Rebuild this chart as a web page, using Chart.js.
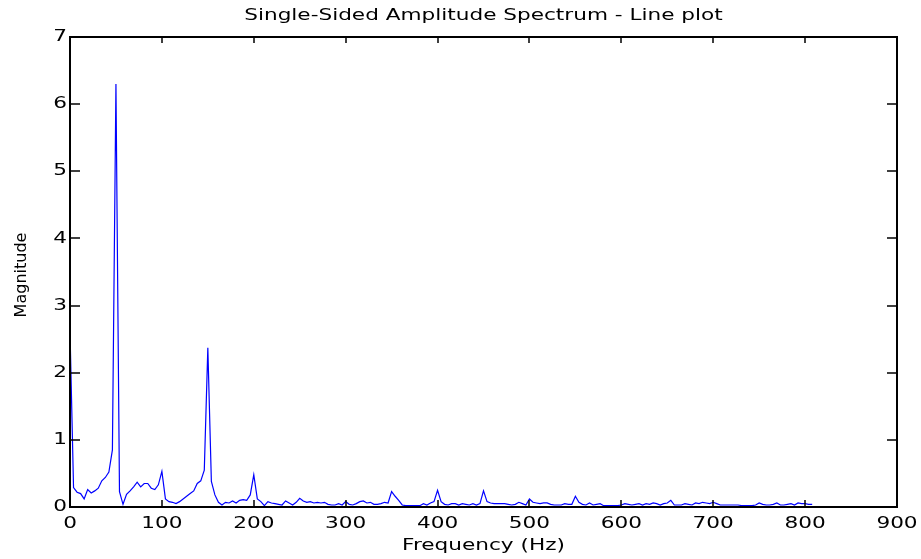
<!DOCTYPE html>
<html>
<head>
<meta charset="utf-8">
<script src="https://cdn.jsdelivr.net/npm/chart.js@4"></script>
<style>
  html, body { margin: 0; padding: 0; background: #ffffff; }
  canvas { display: block; }
</style>
</head>
<body>
<canvas id="c" width="921" height="559"></canvas>
<script>
// ---- data ----
const chartTitle = 'Single-Sided Amplitude Spectrum - Line plot';
const xTitle = 'Frequency (Hz)';
const yTitle = 'Magnitude';
const xTicks = [0, 100, 200, 300, 400, 500, 600, 700, 800, 900];
const yTicks = [0, 1, 2, 3, 4, 5, 6, 7];

// frequency bins (Hz)
const freqHz = [
  0, 3.85, 7.69, 11.54, 15.38, 19.23, 23.08, 26.92, 30.77, 34.62, 38.46, 42.31, 46.15,
  50, 53.85, 57.69, 61.54, 65.38, 69.23, 73.08, 76.92, 80.77, 84.62, 88.46, 92.31, 96.15,
  100, 103.85, 107.69, 111.54, 115.38, 119.23, 123.08, 126.92, 130.77, 134.62, 138.46, 142.31, 146.15,
  150, 153.85, 157.69, 161.54, 165.38, 169.23, 173.08, 176.92, 180.77, 184.62, 188.46, 192.31, 196.15,
  200, 203.85, 207.69, 211.54, 215.38, 219.23, 223.08, 226.92, 230.77, 234.62, 238.46, 242.31, 246.15,
  250, 253.85, 257.69, 261.54, 265.38, 269.23, 273.08, 276.92, 280.77, 284.62, 288.46, 292.31, 296.15,
  300, 303.85, 307.69, 311.54, 315.38, 319.23, 323.08, 326.92, 330.77, 334.62, 338.46, 342.31, 346.15,
  350, 353.85, 357.69, 361.54, 365.38, 369.23, 373.08, 376.92, 380.77, 384.62, 388.46, 392.31, 396.15,
  400, 403.85, 407.69, 411.54, 415.38, 419.23, 423.08, 426.92, 430.77, 434.62, 438.46, 442.31, 446.15,
  450, 453.85, 457.69, 461.54, 465.38, 469.23, 473.08, 476.92, 480.77, 484.62, 488.46, 492.31, 496.15,
  500, 503.85, 507.69, 511.54, 515.38, 519.23, 523.08, 526.92, 530.77, 534.62, 538.46, 542.31, 546.15,
  550, 553.85, 557.69, 561.54, 565.38, 569.23, 573.08, 576.92, 580.77, 584.62, 588.46, 592.31, 596.15,
  600, 603.85, 607.69, 611.54, 615.38, 619.23, 623.08, 626.92, 630.77, 634.62, 638.46, 642.31, 646.15,
  650, 653.85, 657.69, 661.54, 665.38, 669.23, 673.08, 676.92, 680.77, 684.62, 688.46, 692.31, 696.15,
  700, 703.85, 707.69, 711.54, 715.38, 719.23, 723.08, 726.92, 730.77, 734.62, 738.46, 742.31, 746.15,
  750, 753.85, 757.69, 761.54, 765.38, 769.23, 773.08, 776.92, 780.77, 784.62, 788.46, 792.31, 796.15,
  800, 803.85, 807.69
];

// single-sided amplitude at each bin
const magnitude = [
  2.62, 0.29, 0.22, 0.20, 0.12, 0.26, 0.21, 0.24, 0.28, 0.39, 0.44, 0.52, 0.85,
  6.30, 0.23, 0.04, 0.19, 0.24, 0.30, 0.37, 0.30, 0.35, 0.35, 0.28, 0.26, 0.33,
  0.53, 0.12, 0.08, 0.07, 0.05, 0.08, 0.12, 0.16, 0.20, 0.24, 0.35, 0.39, 0.55,
  2.37, 0.38, 0.18, 0.07, 0.03, 0.07, 0.06, 0.09, 0.06, 0.10, 0.11, 0.10, 0.18,
  0.48, 0.12, 0.08, 0.02, 0.08, 0.06, 0.05, 0.04, 0.03, 0.09, 0.06, 0.03, 0.07,
  0.13, 0.09, 0.07, 0.08, 0.06, 0.07, 0.06, 0.07, 0.04, 0.03, 0.03, 0.05, 0.03,
  0.08, 0.04, 0.03, 0.05, 0.08, 0.09, 0.06, 0.07, 0.04, 0.04, 0.05, 0.07, 0.06,
  0.23, 0.16, 0.10, 0.03, 0.02, 0.02, 0.02, 0.02, 0.02, 0.05, 0.03, 0.06, 0.08,
  0.25, 0.08, 0.04, 0.03, 0.05, 0.05, 0.03, 0.05, 0.04, 0.03, 0.05, 0.03, 0.05,
  0.24, 0.08, 0.06, 0.05, 0.05, 0.05, 0.05, 0.04, 0.03, 0.04, 0.07, 0.05, 0.03,
  0.12, 0.07, 0.06, 0.05, 0.06, 0.06, 0.04, 0.03, 0.03, 0.03, 0.05, 0.04, 0.04,
  0.16, 0.07, 0.04, 0.03, 0.06, 0.03, 0.04, 0.05, 0.02, 0.02, 0.02, 0.02, 0.02,
  0.03, 0.05, 0.04, 0.03, 0.04, 0.05, 0.03, 0.05, 0.04, 0.06, 0.05, 0.03, 0.05,
  0.06, 0.10, 0.03, 0.03, 0.03, 0.05, 0.04, 0.03, 0.06, 0.05, 0.07, 0.06, 0.05,
  0.07, 0.05, 0.03, 0.03, 0.03, 0.03, 0.03, 0.03, 0.02, 0.02, 0.02, 0.02, 0.03,
  0.06, 0.04, 0.03, 0.03, 0.04, 0.06, 0.03, 0.03, 0.04, 0.05, 0.03, 0.06, 0.05,
  0.05, 0.04, 0.04
];

// ---- rendering ----
const FONT = '"DejaVu Sans", "Liberation Sans", sans-serif';
const STRETCH = 1.35; // horizontal text in the reference is widened

const stretchTextPlugin = {
  id: 'stretchText',
  beforeInit(chart) {
    const ctx = chart.ctx;
    const orig = ctx.fillText;
    ctx.__plainFillText = orig;
    ctx.fillText = function (text, x, y, maxWidth) {
      this.save();
      this.translate(x, y);
      this.scale(STRETCH, 1);
      if (maxWidth === undefined) orig.call(this, text, 0, 0);
      else orig.call(this, text, 0, 0, maxWidth / STRETCH);
      this.restore();
    };
  }
};

// MATLAB-style box with inward tick marks
const framePlugin = {
  id: 'frame',
  afterDatasetsDraw(chart) {
    const { ctx, scales } = chart;
    const xs = scales.x, ys = scales.y;
    const L = Math.round(xs.getPixelForValue(xTicks[0]));
    const R = Math.round(xs.getPixelForValue(xTicks[xTicks.length - 1]));
    const T = Math.round(ys.getPixelForValue(yTicks[yTicks.length - 1]));
    const B = Math.round(ys.getPixelForValue(yTicks[0]));
    ctx.save();
    ctx.strokeStyle = '#000000';
    ctx.lineWidth = 2;
    ctx.setLineDash([]);
    ctx.beginPath();
    ctx.moveTo(L, T);
    ctx.lineTo(R, T);
    ctx.lineTo(R, B);
    ctx.lineTo(L, B);
    ctx.closePath();
    ctx.stroke();
    ctx.lineWidth = 1.5;
    ctx.beginPath();
    xTicks.forEach(v => {
      const px = Math.round(xs.getPixelForValue(v));
      ctx.moveTo(px, B); ctx.lineTo(px, B - 7);
      ctx.moveTo(px, T); ctx.lineTo(px, T + 6);
    });
    yTicks.forEach(v => {
      const py = Math.round(ys.getPixelForValue(v));
      ctx.moveTo(L, py); ctx.lineTo(L + 10, py);
      ctx.moveTo(R, py); ctx.lineTo(R - 10, py);
    });
    ctx.stroke();
    ctx.restore();
  },
  afterDraw(chart) {
    const { ctx, scales } = chart;
    const ys = scales.y;
    const T = ys.getPixelForValue(yTicks[yTicks.length - 1]);
    const B = ys.getPixelForValue(yTicks[0]);
    ctx.save();
    ctx.fillStyle = '#000000';
    ctx.font = '16px ' + FONT;
    ctx.textAlign = 'center';
    ctx.textBaseline = 'middle';
    ctx.translate(21.5, (T + B) / 2 + 3);
    ctx.rotate(-Math.PI / 2);
    ctx.__plainFillText.call(ctx, yTitle, 0, 0);
    ctx.restore();
  }
};

const points = freqHz.map((f, i) => ({ x: f, y: magnitude[i] }));

new Chart(document.getElementById('c'), {
  type: 'line',
  data: {
    datasets: [{
      data: points,
      borderColor: '#0000ff',
      borderWidth: 1.2,
      pointRadius: 0,
      fill: false,
      tension: 0
    }]
  },
  options: {
    responsive: false,
    animation: false,
    devicePixelRatio: 1,
    layout: { padding: { left: 0, right: 24, top: 0, bottom: 0 } },
    plugins: {
      legend: { display: false },
      tooltip: { enabled: false },
      title: {
        display: true,
        text: chartTitle,
        color: '#000000',
        fullSize: false,
        font: { family: FONT, size: 16, weight: 'normal' },
        padding: { top: 6, bottom: 11.8 }
      }
    },
    scales: {
      x: {
        type: 'linear',
        min: 0,
        max: 900,
        afterFit(scale) { scale.height = 52; },
        afterBuildTicks(scale) { scale.ticks = xTicks.map(v => ({ value: v })); },
        grid: { display: false, drawTicks: false },
        border: { display: false },
        ticks: {
          color: '#000000',
          font: { family: FONT, size: 16 },
          padding: 7,
          maxRotation: 0,
          autoSkip: false
        },
        title: {
          display: true,
          text: xTitle,
          color: '#000000',
          font: { family: FONT, size: 16 },
          padding: { top: 0, bottom: 4 }
        }
      },
      y: {
        type: 'linear',
        min: 0,
        max: 7,
        afterFit(scale) { scale.width = 70; },
        afterBuildTicks(scale) { scale.ticks = yTicks.map(v => ({ value: v })); },
        grid: { display: false, drawTicks: false },
        border: { display: false },
        ticks: {
          color: '#000000',
          font: { family: FONT, size: 16 },
          padding: 3
        }
      }
    }
  },
  plugins: [stretchTextPlugin, framePlugin]
});
</script>
</body>
</html>
